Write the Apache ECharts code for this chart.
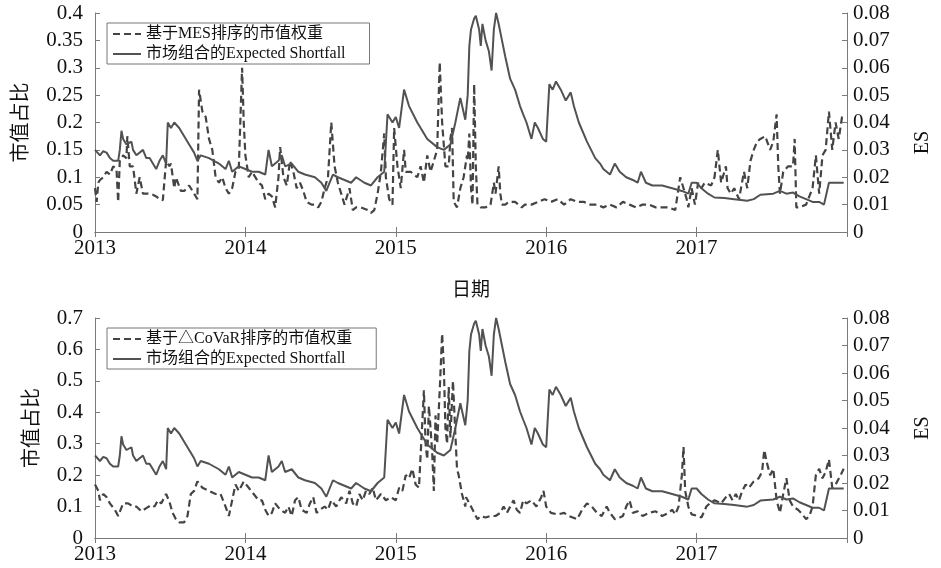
<!DOCTYPE html>
<html><head><meta charset="utf-8">
<script src="https://cdn.jsdelivr.net/npm/echarts@6/dist/echarts.min.js"></script>
<style>html,body{margin:0;padding:0;background:#fff}#c{width:941px;height:568px}</style>
</head><body><div id="c"></div>
<script>
// Market Expected Shortfall (shared by both panels), decimal years
const esT = [2013.000,2013.033,2013.055,2013.077,2013.099,2013.121,2013.154,2013.165,2013.176,2013.187,2013.209,2013.242,2013.253,2013.275,2013.319,2013.341,2013.363,2013.396,2013.407,2013.429,2013.451,2013.473,2013.484,2013.505,2013.527,2013.560,2013.593,2013.626,2013.659,2013.681,2013.703,2013.758,2013.824,2013.868,2013.890,2013.912,2013.956,2014.000,2014.044,2014.088,2014.132,2014.154,2014.176,2014.220,2014.242,2014.264,2014.308,2014.352,2014.396,2014.462,2014.505,2014.538,2014.560,2014.582,2014.615,2014.659,2014.703,2014.736,2014.791,2014.835,2014.879,2014.923,2014.945,2014.978,2015.000,2015.022,2015.055,2015.088,2015.143,2015.209,2015.275,2015.319,2015.363,2015.396,2015.429,2015.462,2015.478,2015.489,2015.500,2015.521,2015.532,2015.554,2015.565,2015.576,2015.597,2015.619,2015.637,2015.652,2015.667,2015.684,2015.706,2015.728,2015.760,2015.793,2015.826,2015.847,2015.869,2015.902,2015.924,2015.945,2015.978,2016.000,2016.021,2016.043,2016.065,2016.097,2016.130,2016.163,2016.184,2016.217,2016.271,2016.326,2016.358,2016.380,2016.424,2016.456,2016.489,2016.532,2016.576,2016.608,2016.630,2016.663,2016.706,2016.771,2016.837,2016.902,2016.945,2016.967,2017.000,2017.032,2017.076,2017.119,2017.184,2017.250,2017.337,2017.380,2017.424,2017.510,2017.554,2017.597,2017.641,2017.684,2017.728,2017.771,2017.815,2017.847,2017.880,2017.924,2017.978];
const esV = [0.030,0.028,0.0295,0.029,0.027,0.026,0.026,0.030,0.037,0.034,0.032,0.033,0.030,0.028,0.030,0.027,0.027,0.024,0.023,0.026,0.028,0.025,0.040,0.038,0.040,0.038,0.035,0.032,0.029,0.026,0.028,0.027,0.025,0.023,0.026,0.022,0.024,0.023,0.022,0.022,0.021,0.030,0.024,0.026,0.028,0.024,0.025,0.022,0.021,0.020,0.018,0.015,0.018,0.021,0.020,0.019,0.018,0.020,0.018,0.017,0.020,0.022,0.043,0.040,0.042,0.038,0.052,0.046,0.040,0.034,0.031,0.030,0.032,0.040,0.049,0.041,0.050,0.068,0.074,0.078,0.079,0.074,0.068,0.076,0.070,0.066,0.059,0.074,0.080,0.076,0.070,0.064,0.056,0.052,0.046,0.043,0.040,0.034,0.040,0.038,0.034,0.033,0.054,0.052,0.055,0.052,0.048,0.051,0.046,0.040,0.033,0.027,0.025,0.023,0.021,0.025,0.022,0.020,0.019,0.018,0.022,0.018,0.017,0.017,0.016,0.015,0.014,0.018,0.018,0.016,0.014,0.0126,0.0124,0.012,0.0114,0.012,0.0136,0.014,0.015,0.014,0.0144,0.013,0.012,0.011,0.011,0.010,0.018,0.018,0.018];

// Market-cap weight ranked by MES (top panel)
const mesT = [2013.000,2013.011,2013.022,2013.033,2013.055,2013.077,2013.099,2013.121,2013.143,2013.154,2013.165,2013.187,2013.209,2013.215,2013.231,2013.253,2013.275,2013.297,2013.319,2013.352,2013.385,2013.407,2013.429,2013.451,2013.473,2013.495,2013.505,2013.527,2013.538,2013.571,2013.593,2013.626,2013.659,2013.681,2013.692,2013.714,2013.736,2013.758,2013.780,2013.802,2013.824,2013.846,2013.868,2013.890,2013.912,2013.934,2013.956,2013.978,2013.989,2014.000,2014.022,2014.044,2014.088,2014.110,2014.132,2014.154,2014.176,2014.198,2014.220,2014.231,2014.253,2014.275,2014.297,2014.319,2014.341,2014.363,2014.385,2014.407,2014.440,2014.462,2014.484,2014.505,2014.527,2014.549,2014.571,2014.593,2014.615,2014.637,2014.659,2014.692,2014.714,2014.736,2014.769,2014.813,2014.835,2014.857,2014.879,2014.901,2014.923,2014.934,2014.956,2014.978,2014.989,2015.011,2015.033,2015.055,2015.066,2015.099,2015.143,2015.165,2015.187,2015.209,2015.231,2015.253,2015.275,2015.292,2015.308,2015.330,2015.352,2015.363,2015.374,2015.385,2015.407,2015.429,2015.451,2015.473,2015.478,2015.489,2015.500,2015.510,2015.521,2015.532,2015.543,2015.565,2015.597,2015.630,2015.652,2015.663,2015.684,2015.695,2015.706,2015.728,2015.750,2015.793,2015.837,2015.858,2015.902,2015.945,2015.989,2016.032,2016.076,2016.119,2016.163,2016.206,2016.250,2016.293,2016.337,2016.380,2016.424,2016.467,2016.510,2016.554,2016.597,2016.641,2016.684,2016.728,2016.771,2016.815,2016.858,2016.891,2016.913,2016.934,2016.945,2016.967,2016.989,2017.010,2017.032,2017.054,2017.097,2017.119,2017.141,2017.163,2017.195,2017.206,2017.228,2017.250,2017.282,2017.315,2017.337,2017.358,2017.380,2017.402,2017.424,2017.456,2017.489,2017.510,2017.532,2017.543,2017.554,2017.576,2017.608,2017.641,2017.652,2017.663,2017.684,2017.728,2017.771,2017.793,2017.815,2017.837,2017.858,2017.880,2017.902,2017.924,2017.945,2017.967,2017.978];
const mesV = [0.08,0.055,0.09,0.095,0.1,0.11,0.105,0.12,0.115,0.055,0.13,0.14,0.135,0.175,0.12,0.12,0.07,0.1,0.07,0.07,0.068,0.065,0.06,0.058,0.13,0.12,0.125,0.08,0.1,0.075,0.075,0.085,0.07,0.06,0.26,0.22,0.21,0.17,0.15,0.1,0.09,0.1,0.08,0.07,0.08,0.11,0.115,0.30,0.2,0.14,0.1,0.11,0.09,0.085,0.06,0.07,0.065,0.045,0.1,0.155,0.1,0.085,0.13,0.11,0.08,0.09,0.075,0.055,0.05,0.05,0.045,0.055,0.08,0.1,0.2,0.12,0.09,0.07,0.05,0.08,0.04,0.045,0.045,0.04,0.035,0.04,0.07,0.11,0.18,0.1,0.06,0.05,0.19,0.12,0.08,0.15,0.11,0.11,0.1,0.12,0.09,0.14,0.11,0.13,0.15,0.31,0.2,0.12,0.12,0.17,0.19,0.055,0.045,0.08,0.1,0.14,0.13,0.18,0.08,0.05,0.27,0.12,0.05,0.045,0.045,0.05,0.09,0.07,0.12,0.07,0.05,0.05,0.055,0.055,0.045,0.05,0.05,0.055,0.06,0.055,0.06,0.05,0.06,0.055,0.055,0.05,0.05,0.045,0.05,0.045,0.055,0.05,0.045,0.05,0.05,0.045,0.045,0.045,0.04,0.1,0.08,0.06,0.045,0.08,0.05,0.09,0.08,0.09,0.085,0.1,0.15,0.09,0.12,0.08,0.07,0.08,0.06,0.11,0.08,0.13,0.15,0.165,0.17,0.175,0.15,0.165,0.215,0.12,0.07,0.11,0.12,0.12,0.17,0.045,0.045,0.05,0.08,0.14,0.07,0.14,0.15,0.22,0.15,0.2,0.17,0.21,0.21];

// Market-cap weight ranked by ΔCoVaR (bottom panel)
const covarT = [2013.000,2013.022,2013.033,2013.055,2013.077,2013.099,2013.132,2013.154,2013.187,2013.220,2013.253,2013.275,2013.308,2013.341,2013.374,2013.396,2013.418,2013.440,2013.473,2013.495,2013.516,2013.538,2013.560,2013.593,2013.615,2013.637,2013.659,2013.681,2013.714,2013.758,2013.802,2013.835,2013.868,2013.890,2013.912,2013.934,2013.956,2013.989,2014.022,2014.055,2014.088,2014.110,2014.132,2014.154,2014.176,2014.198,2014.231,2014.264,2014.286,2014.308,2014.330,2014.352,2014.374,2014.407,2014.429,2014.451,2014.473,2014.495,2014.527,2014.549,2014.571,2014.604,2014.637,2014.670,2014.692,2014.714,2014.736,2014.758,2014.780,2014.802,2014.824,2014.846,2014.868,2014.901,2014.934,2014.967,2015.000,2015.022,2015.044,2015.066,2015.088,2015.110,2015.132,2015.154,2015.187,2015.198,2015.209,2015.220,2015.231,2015.242,2015.253,2015.264,2015.275,2015.292,2015.308,2015.319,2015.330,2015.341,2015.352,2015.363,2015.380,2015.396,2015.407,2015.418,2015.440,2015.462,2015.467,2015.478,2015.500,2015.521,2015.543,2015.565,2015.597,2015.630,2015.663,2015.695,2015.717,2015.739,2015.783,2015.804,2015.826,2015.847,2015.869,2015.902,2015.935,2015.967,2015.982,2016.000,2016.032,2016.076,2016.119,2016.152,2016.206,2016.239,2016.271,2016.304,2016.337,2016.369,2016.402,2016.424,2016.456,2016.489,2016.510,2016.532,2016.554,2016.576,2016.608,2016.641,2016.684,2016.728,2016.771,2016.815,2016.837,2016.858,2016.880,2016.902,2016.913,2016.924,2016.945,2016.967,2017.010,2017.032,2017.065,2017.087,2017.119,2017.163,2017.195,2017.217,2017.239,2017.261,2017.282,2017.304,2017.326,2017.348,2017.380,2017.413,2017.435,2017.450,2017.467,2017.489,2017.510,2017.532,2017.554,2017.576,2017.597,2017.619,2017.641,2017.674,2017.695,2017.728,2017.750,2017.771,2017.793,2017.815,2017.837,2017.858,2017.880,2017.902,2017.924,2017.957,2017.978];
const covarV = [0.17,0.15,0.12,0.14,0.13,0.11,0.09,0.07,0.11,0.11,0.1,0.1,0.085,0.095,0.105,0.1,0.12,0.11,0.14,0.115,0.08,0.06,0.05,0.05,0.07,0.14,0.15,0.18,0.16,0.15,0.14,0.14,0.1,0.07,0.12,0.17,0.15,0.18,0.16,0.14,0.12,0.12,0.09,0.07,0.08,0.11,0.09,0.08,0.1,0.07,0.12,0.13,0.09,0.08,0.11,0.13,0.08,0.09,0.1,0.09,0.12,0.1,0.13,0.11,0.15,0.11,0.1,0.14,0.12,0.15,0.14,0.16,0.12,0.14,0.12,0.13,0.12,0.16,0.15,0.2,0.19,0.22,0.17,0.16,0.47,0.3,0.25,0.42,0.35,0.27,0.15,0.39,0.3,0.47,0.65,0.55,0.35,0.3,0.48,0.32,0.5,0.33,0.22,0.2,0.14,0.1,0.13,0.13,0.1,0.08,0.06,0.07,0.065,0.07,0.07,0.08,0.1,0.08,0.12,0.09,0.08,0.12,0.11,0.12,0.1,0.13,0.15,0.1,0.08,0.075,0.08,0.07,0.06,0.09,0.11,0.1,0.08,0.07,0.1,0.08,0.06,0.065,0.07,0.1,0.12,0.08,0.085,0.07,0.08,0.085,0.07,0.08,0.09,0.075,0.1,0.2,0.29,0.15,0.1,0.075,0.07,0.065,0.1,0.11,0.12,0.11,0.13,0.14,0.12,0.14,0.12,0.15,0.17,0.16,0.18,0.19,0.21,0.28,0.24,0.2,0.22,0.12,0.08,0.14,0.19,0.12,0.1,0.09,0.08,0.06,0.07,0.1,0.2,0.22,0.19,0.21,0.25,0.16,0.17,0.2,0.22];

const yearTicks = [2013, 2014, 2015, 2016, 2017];
const nameMES = '基于MES排序的市值权重';
const nameCoVaR = '基于△CoVaR排序的市值权重';
const nameES = '市场组合的Expected Shortfall';

const zip = (t, v) => t.map((x, i) => [x, v[i]]);
const FONT = "'Liberation Serif', 'Noto Sans CJK SC', serif";
const AX = '#7a7a7a';
const TXT = '#111';

function xAx(grid, top) {
  return {
    type: 'value', gridIndex: grid, min: 2013, max: 2018, interval: 1,
    position: top ? 'top' : 'bottom',
    axisLine: { show: true, lineStyle: { color: AX, width: 1 } },
    axisTick: { show: true, inside: true, length: 5, lineStyle: { color: AX } },
    axisLabel: top ? { show: false } : {
      show: true, color: TXT, fontFamily: FONT, fontSize: 21, margin: 6,
      formatter: v => (yearTicks.indexOf(v) >= 0 ? String(v) : '')
    },
    splitLine: { show: false }
  };
}
function yAx(grid, right, max, interval, name, gap, pad) {
  return {
    type: 'value', gridIndex: grid, min: 0, max: max, interval: interval,
    position: right ? 'right' : 'left',
    name: name, nameLocation: 'middle', nameRotate: 90, nameGap: gap,
    nameTextStyle: { color: TXT, fontFamily: FONT, fontSize: 20, padding: pad || 0 },
    axisLine: { show: true, lineStyle: { color: AX, width: 1 } },
    axisTick: { show: true, inside: true, length: 5, lineStyle: { color: AX } },
    axisLabel: { color: TXT, fontFamily: FONT, fontSize: 21, margin: right ? 6 : 12 },
    splitLine: { show: false }
  };
}
const legendBase = {
  orient: 'vertical', left: 107, itemWidth: 28, itemHeight: 12, itemGap: 4,
  padding: [3, 24, 2, 5], backgroundColor: '#fff', borderColor: '#777', borderWidth: 1, borderRadius: 0,
  itemStyle: { opacity: 0, borderWidth: 0 },
  textStyle: { color: TXT, fontFamily: FONT, fontSize: 16 }
};
const dashStyle = { color: '#444', width: 2.2, type: [7, 4] };
const solidStyle = { color: '#525252', width: 2 };

const chart = echarts.init(document.getElementById('c'), null, { renderer: 'canvas' });
chart.setOption({
  animation: false,
  backgroundColor: '#fff',
  grid: [
    { left: 95, top: 13, width: 761, height: 219 },
    { left: 95, top: 318, width: 761, height: 220 }
  ],
  xAxis: [
    Object.assign(xAx(0, false), { name: '日期', nameLocation: 'middle', nameGap: 50,
      nameTextStyle: { color: TXT, fontFamily: FONT, fontSize: 19 } }),
    xAx(0, true), xAx(1, false), xAx(1, true)
  ],
  yAxis: [
    yAx(0, false, 0.4, 0.05, '市值占比', 63),
    yAx(0, true, 0.08, 0.01, 'ES', 66, [0, 40, 0, 0]),
    yAx(1, false, 0.7, 0.1, '市值占比', 52),
    yAx(1, true, 0.08, 0.01, 'ES', 66)
  ],
  legend: [
    Object.assign({}, legendBase, { top: 23, data: [nameMES, nameES] }),
    Object.assign({}, legendBase, { top: 328, data: [nameCoVaR, nameES] })
  ],
  series: [
    { name: nameMES, type: 'line', xAxisIndex: 0, yAxisIndex: 0, data: zip(mesT, mesV),
      showSymbol: false, symbol: 'none', lineStyle: dashStyle, itemStyle: { color: '#444' }, z: 2 },
    { name: nameES, type: 'line', xAxisIndex: 0, yAxisIndex: 1, data: zip(esT, esV),
      showSymbol: false, symbol: 'none', lineStyle: solidStyle, itemStyle: { color: '#525252' }, z: 3 },
    { name: nameCoVaR, type: 'line', xAxisIndex: 2, yAxisIndex: 2, data: zip(covarT, covarV),
      showSymbol: false, symbol: 'none', lineStyle: dashStyle, itemStyle: { color: '#444' }, z: 2 },
    { name: nameES, type: 'line', xAxisIndex: 2, yAxisIndex: 3, data: zip(esT, esV),
      showSymbol: false, symbol: 'none', lineStyle: solidStyle, itemStyle: { color: '#525252' }, z: 3 }
  ]
});
</script>
</body></html>
